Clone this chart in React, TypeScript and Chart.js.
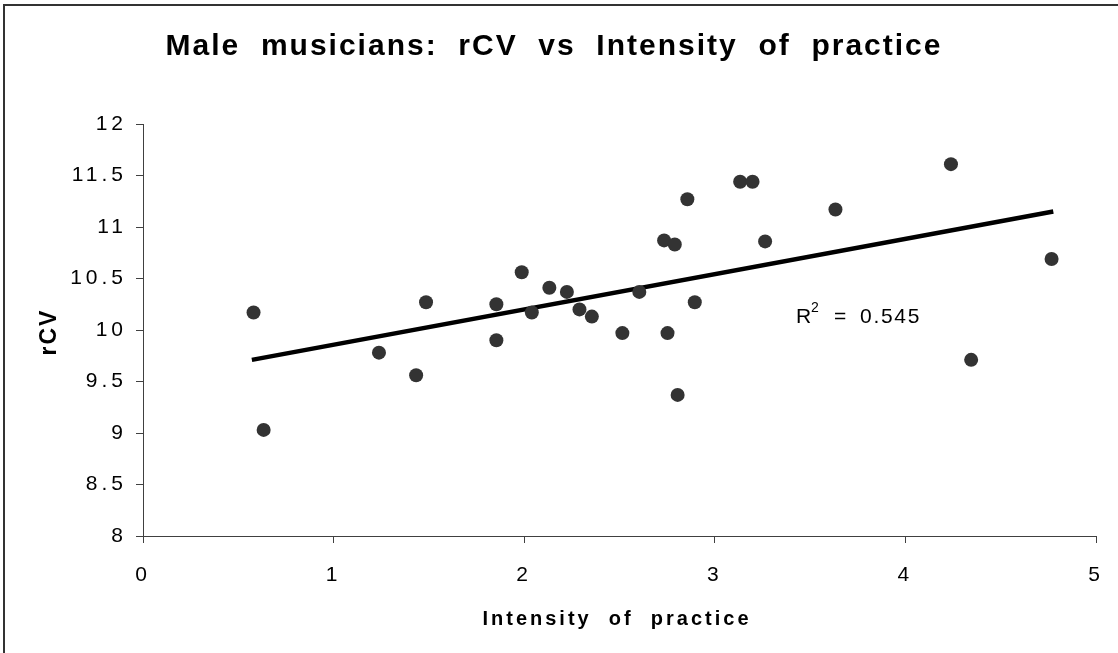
import React, { useEffect, useRef } from "react";
import { Chart, registerables } from "chart.js";

Chart.register(...registerables);

const chartTitle = "Male  musicians:  rCV  vs  Intensity  of  practice";
const xTitle = "Intensity  of  practice";
const yTitle = "rCV";
const r2Value = "0.545";

const intensity = [0.58, 0.633, 1.238, 1.433, 1.485, 1.854, 1.854, 1.987, 2.04, 2.132, 2.224, 2.29, 2.355, 2.515, 2.604, 2.734, 2.752, 2.79, 2.805, 2.856, 2.895, 3.133, 3.198, 3.264, 3.633, 4.239, 4.345, 4.767];
const rcv = [10.17, 9.03, 9.78, 9.56, 10.27, 10.25, 9.9, 10.56, 10.17, 10.41, 10.37, 10.2, 10.13, 9.97, 10.37, 10.87, 9.97, 10.83, 9.37, 11.27, 10.27, 11.44, 11.44, 10.86, 11.17, 11.61, 9.71, 10.69];

const trendX = [0.571, 4.776];
const trendY = [9.71, 11.15];

const FONT = "'Liberation Sans', Arial, Helvetica, sans-serif";

const textPlugin = {
  id: "textPlugin",
  beforeDraw(chart: any) {
    chart.ctx.letterSpacing = "4px";
  },
  afterDraw(chart: any) {
    const ctx = chart.ctx as CanvasRenderingContext2D & { letterSpacing: string };
    ctx.save();
    // frame (left + top)
    ctx.strokeStyle = "#333";
    ctx.lineWidth = 2;
    ctx.beginPath();
    ctx.moveTo(4, 653);
    ctx.lineTo(4, 5);
    ctx.lineTo(1118, 5);
    ctx.stroke();

    ctx.fillStyle = "#000";
    // title
    ctx.font = `bold 30px ${FONT}`;
    ctx.letterSpacing = "2px";
    ctx.textAlign = "center";
    ctx.textBaseline = "alphabetic";
    ctx.fillText(chartTitle, 554, 55);

    // x title
    ctx.font = `bold 20px ${FONT}`;
    ctx.letterSpacing = "3px";
    ctx.fillText(xTitle, 617, 625);

    // y title
    ctx.save();
    ctx.font = `bold 23px ${FONT}`;
    ctx.letterSpacing = "2px";
    ctx.translate(56, 332);
    ctx.rotate(-Math.PI / 2);
    ctx.fillText(yTitle, 0, 0);
    ctx.restore();

    // R^2 label
    ctx.textAlign = "left";
    ctx.font = `21px ${FONT}`;
    ctx.letterSpacing = "1.7px";
    ctx.fillText("R", 796, 323);
    ctx.font = `14px ${FONT}`;
    ctx.letterSpacing = "0px";
    ctx.fillText("2", 811, 312);
    ctx.font = `21px ${FONT}`;
    ctx.letterSpacing = "1.7px";
    ctx.fillText("=", 834, 323);
    ctx.fillText(r2Value, 860, 323);
    ctx.restore();
  },
};

export default function App() {
  const ref = useRef<HTMLCanvasElement | null>(null);

  useEffect(() => {
    if (!ref.current) return;
    const points = intensity.map((x, i) => ({ x, y: rcv[i] }));
    const trend = trendX.map((x, i) => ({ x, y: trendY[i] }));
    const chart = new Chart(ref.current, {
      type: "scatter",
      data: {
        datasets: [
          {
            label: "rCV",
            data: points,
            backgroundColor: "#333333",
            borderWidth: 0,
            pointRadius: 7,
            pointHoverRadius: 7,
            order: 0,
          },
          {
            type: "line",
            label: "trend",
            data: trend,
            borderColor: "#000000",
            borderWidth: 4.5,
            pointRadius: 0,
            showLine: true,
            fill: false,
            order: 1,
          } as any,
        ],
      },
      options: {
        animation: false,
        responsive: false,
        maintainAspectRatio: false,
        layout: { padding: { top: 124, right: 22, left: 0, bottom: 0 } },
        plugins: {
          legend: { display: false },
          title: { display: false },
          tooltip: { enabled: false },
        },
        scales: {
          x: {
            type: "linear",
            min: 0,
            max: 5,
            afterFit: (s: any) => {
              s.height = 117;
              s.paddingLeft = 0;
              s.paddingRight = 0;
            },
            ticks: {
              stepSize: 1,
              color: "#000",
              padding: 20,
              font: { family: FONT, size: 21 },
              callback: (v: any) => String(v),
            },
            grid: {
              drawOnChartArea: false,
              drawTicks: true,
              tickLength: 7,
              tickColor: "#404040",
              tickWidth: 1,
            },
            border: { display: true, color: "#404040", width: 1 },
          },
          y: {
            type: "linear",
            min: 8,
            max: 12,
            afterFit: (s: any) => {
              s.width = 143;
              s.paddingTop = 0;
              s.paddingBottom = 0;
            },
            ticks: {
              stepSize: 0.5,
              color: "#000",
              padding: 9,
              font: { family: FONT, size: 21 },
              callback: (v: any) => String(v),
            },
            grid: {
              drawOnChartArea: false,
              drawTicks: true,
              tickLength: 7,
              tickColor: "#404040",
              tickWidth: 1,
            },
            border: { display: true, color: "#404040", width: 1 },
          },
        },
      },
      plugins: [textPlugin],
    });
    return () => chart.destroy();
  }, []);

  return (
    <div style={{ position: "fixed", left: 0, top: 0, width: 1118, height: 653, background: "#fff" }}>
      <canvas ref={ref} width={1118} height={653} style={{ display: "block", width: 1118, height: 653 }} />
    </div>
  );
}
